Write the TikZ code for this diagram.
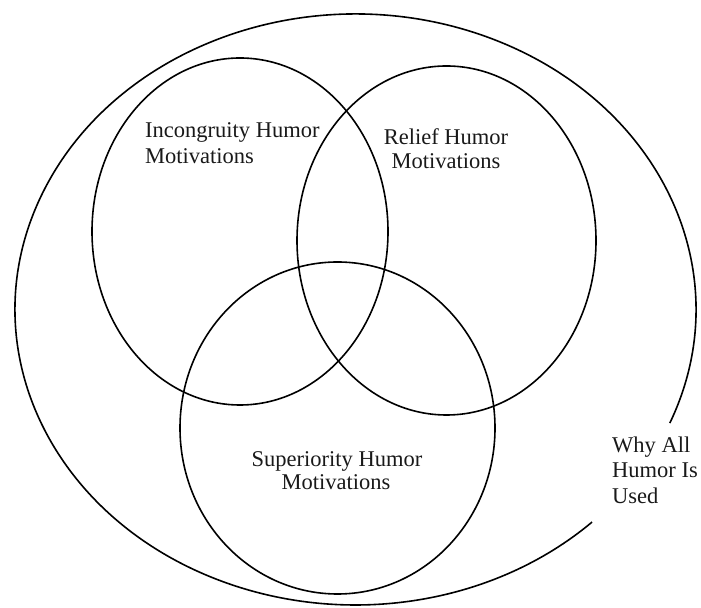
\documentclass[tikz,border=0pt]{standalone}
\usepackage{fontspec}
\setmainfont{Liberation Serif}
\begin{document}
\begin{tikzpicture}[x=1bp,y=1bp,
  ring/.style={draw=black,line width=1.6bp},
  label/.style={inner sep=0pt,text=black!90,font=\fontsize{22.5bp}{25.5bp}\selectfont}]
\useasboundingbox (0,0) rectangle (701,608);
% centres
\coordinate (O) at (355.5,298.5);
\coordinate (inc) at (240,376.5);
\coordinate (rel) at (446.5,367.5);
\coordinate (sup) at (337.5,180);
% outer open ellipse
\draw[ring] ([shift={(-22.6:340.5 and 295.5)}]O) arc[start angle=-22.6,end angle=314,x radius=340.5,y radius=295.5];
% three circles
\draw[ring] (inc) ellipse[x radius=148,y radius=173.5];
\draw[ring] (rel) ellipse[x radius=149.5,y radius=174.5];
\draw[ring] (sup) ellipse[x radius=157.5,y radius=166];
% labels
\node[label,anchor=base west] (inc1) at (145,470) {Incongruity Humor};
\node[label,anchor=base west] (inc2) at (145,444) {Motivations};
\node[label,anchor=base] (rel1) at (446,463) {Relief Humor};
\node[label,anchor=base] (rel2) at (446,439) {Motivations};
\node[label,anchor=base] (sup1) at (337,141) {Superiority Humor};
\node[label,anchor=base] (sup2) at (336,118) {Motivations};
\node[label,anchor=base west] (why1) at (612,155) {Why All};
\node[label,anchor=base west] (why2) at (612,130) {Humor Is};
\node[label,anchor=base west] (why3) at (612,104) {Used};
\end{tikzpicture}
\end{document}
